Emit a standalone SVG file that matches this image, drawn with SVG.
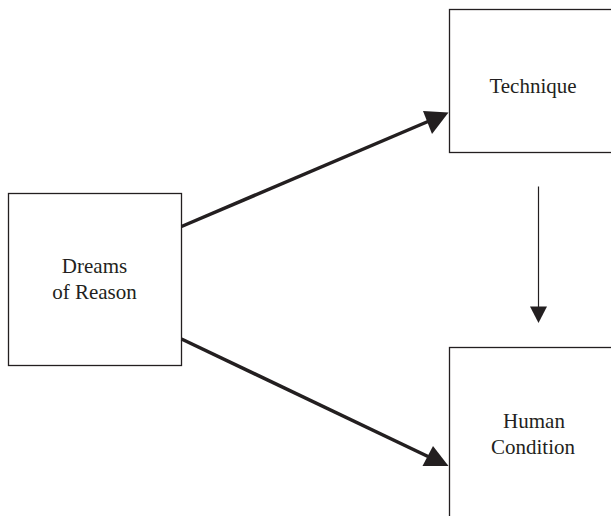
<svg xmlns="http://www.w3.org/2000/svg" width="611" height="516" viewBox="0 0 611 516">
<style>
.box{fill:#fff;stroke:#231f20;stroke-width:1.3}
.lbl{font-family:"Liberation Serif","Times New Roman",serif;font-size:21px;fill:#231f20;text-anchor:middle}
.thick{stroke:#231f20;stroke-width:3.5;fill:none}
.thin{stroke:#231f20;stroke-width:1.2;fill:none}
.head{fill:#231f20}
</style>
<rect width="611" height="516" fill="#fff"/>
<g id="dreams">
<rect class="box" x="8.5" y="193.5" width="173" height="172"/>
<text class="lbl" x="94.5" y="272.5">Dreams</text>
<text class="lbl" x="94.5" y="299">of Reason</text>
</g>
<g id="technique">
<rect class="box" x="449.5" y="9.5" width="170" height="143"/>
<text class="lbl" x="533" y="92.5">Technique</text>
</g>
<g id="human">
<rect class="box" x="449.5" y="347.5" width="170" height="180"/>
<text class="lbl" x="534" y="427.5">Human</text>
<text class="lbl" x="533" y="453.5">Condition</text>
</g>
<g id="connectors">
<line class="thick" x1="181.5" y1="226.5" x2="428" y2="121.5"/>
<polygon class="head" points="448.5,112.5 423,111 432,134"/>
<line class="thick" x1="181.5" y1="339" x2="428" y2="456.5"/>
<polygon class="head" points="448.5,466 422.5,466 433,446"/>
<line class="thin" x1="538.5" y1="186.5" x2="538.5" y2="308"/>
<polygon class="head" points="538.5,323 530,306.5 547,306.5"/>
</g>
</svg>
